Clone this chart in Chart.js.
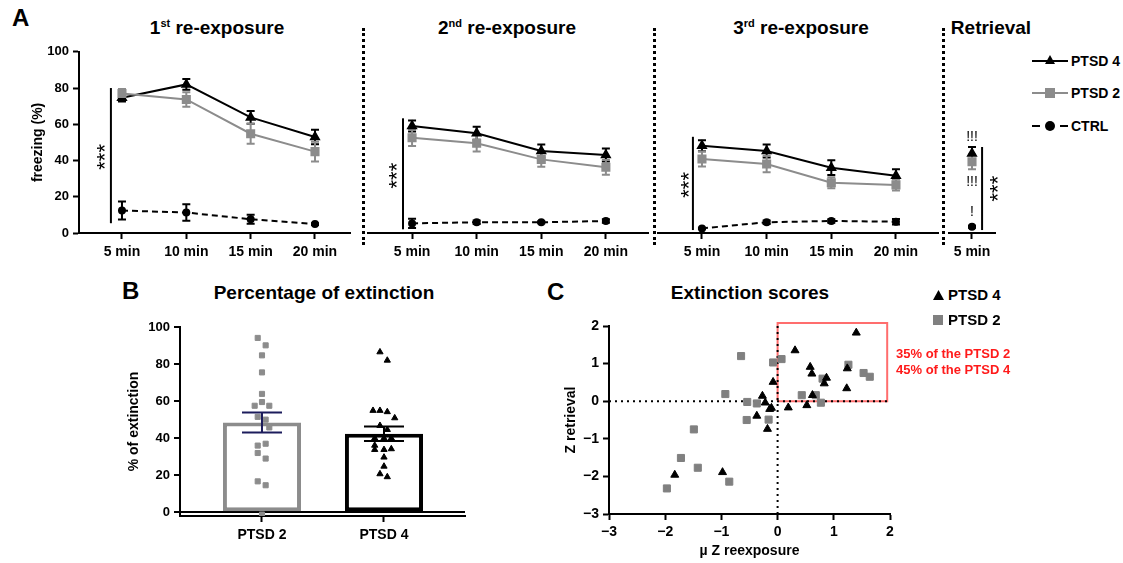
<!DOCTYPE html>
<html lang="en">
<head>
<meta charset="UTF-8">
<title>Freezing and extinction</title>
<script src="https://cdn.jsdelivr.net/npm/chart.js"></script>
<style>
  body { margin:0; width:1123px; height:563px; background:#fff; position:relative; overflow:hidden;
         font-family:"Liberation Sans", Arial, sans-serif; font-weight:bold; color:#000; }
  canvas, .abs { position:absolute; }
  .letter { font-size:24px; line-height:24px; }
  .title { font-size:19px; line-height:22px; white-space:nowrap; transform:translateX(-50%); }
  .title sup { font-size:11px; vertical-align:7px; line-height:0; }
  .sep { width:0; border-left:3px dotted #000; }
  .leg { font-size:14px; line-height:16px; white-space:nowrap; }
  .red { color:#ff1a1a; font-size:13px; line-height:15px; white-space:nowrap; }
</style>
</head>
<body>
  <!-- panel A -->
  <div class="abs letter" style="left:12px;top:6px;">A</div>
  <div class="abs title" style="left:217px;top:17px;">1<sup>st</sup> re-exposure</div>
  <div class="abs title" style="left:507px;top:17px;">2<sup>nd</sup> re-exposure</div>
  <div class="abs title" style="left:801px;top:17px;">3<sup>rd</sup> re-exposure</div>
  <div class="abs title" style="left:991px;top:17px;">Retrieval</div>
  <div class="abs sep" style="left:362px;top:28px;height:217px;"></div>
  <div class="abs sep" style="left:653px;top:28px;height:217px;"></div>
  <div class="abs sep" style="left:942px;top:28px;height:217px;"></div>

  <canvas id="re1" width="360" height="235" style="left:0;top:40px;"></canvas>
  <canvas id="re2" width="292" height="235" style="left:362px;top:40px;"></canvas>
  <canvas id="re3" width="288" height="235" style="left:654px;top:40px;"></canvas>
  <canvas id="ret" width="80" height="235" style="left:943px;top:40px;"></canvas>

  <!-- legend A -->
  <div class="abs" style="left:1032px;top:60px;width:36px;border-top:2px solid #000;"></div>
  <div class="abs" style="left:1045px;top:55px;width:10px;height:9px;background:#000;clip-path:polygon(50% 0,100% 100%,0 100%);"></div>
  <div class="abs leg" style="left:1071px;top:53px;">PTSD 4</div>
  <div class="abs" style="left:1032px;top:92px;width:36px;border-top:2px solid #8c8c8c;"></div>
  <div class="abs" style="left:1045px;top:88px;width:10px;height:10px;background:#8c8c8c;"></div>
  <div class="abs leg" style="left:1071px;top:85px;">PTSD 2</div>
  <div class="abs" style="left:1032px;top:125px;width:8px;border-top:2px solid #000;"></div>
  <div class="abs" style="left:1060px;top:125px;width:8px;border-top:2px solid #000;"></div>
  <div class="abs" style="left:1045px;top:121px;width:10px;height:10px;background:#000;border-radius:50%;"></div>
  <div class="abs leg" style="left:1071px;top:118px;">CTRL</div>

  <!-- panel B -->
  <div class="abs letter" style="left:122px;top:279px;">B</div>
  <div class="abs title" style="left:324px;top:282px;">Percentage of extinction</div>
  <canvas id="ext" width="380" height="240" style="left:100px;top:315px;"></canvas>

  <!-- panel C -->
  <div class="abs letter" style="left:547px;top:280px;">C</div>
  <div class="abs title" style="left:750px;top:282px;">Extinction scores</div>
  <canvas id="scores" width="360" height="250" style="left:540px;top:310px;"></canvas>
  <div class="abs" style="left:933px;top:290px;width:11px;height:10px;background:#000;clip-path:polygon(50% 0,100% 100%,0 100%);"></div>
  <div class="abs leg" style="left:948px;top:287px;font-size:15px;">PTSD 4</div>
  <div class="abs" style="left:933px;top:315px;width:10px;height:10px;background:#808080;"></div>
  <div class="abs leg" style="left:948px;top:312px;font-size:15px;">PTSD 2</div>
  <div class="abs red" style="left:896px;top:346px;">35% of the PTSD 2</div>
  <div class="abs red" style="left:896px;top:362px;">45% of the PTSD 4</div>

<script>
// ---- data ----
const minutes = [5, 10, 15, 20];

// freezing (%) per 5 min bin, mean and SEM
const re1Ptsd4 = [74.6, 82.0, 63.8, 53.0];
const re1Ptsd4Sem = [2, 3, 3.5, 4];
const re1Ptsd2 = [77.0, 73.7, 54.8, 44.9];
const re1Ptsd2Sem = [2.5, 4, 5.5, 5.5];
const re1Ctrl = [12.4, 11.3, 7.6, 4.9];
const re1CtrlSem = [5, 4.5, 2.5, 0.5];

const re2Ptsd4 = [57.8, 53.9, 44.3, 42.2];
const re2Ptsd4Sem = [3, 3.5, 3.5, 3.5];
const re2Ptsd2 = [51.5, 48.5, 39.8, 35.5];
const re2Ptsd2Sem = [4.5, 4.5, 4, 4];
const re2Ctrl = [5.2, 5.8, 5.8, 6.5];
const re2CtrlSem = [2.5, 1, 0.5, 1];

const re3Ptsd4 = [47.2, 44.3, 35.3, 31.0];
const re3Ptsd4Sem = [3, 3.5, 4, 3.5];
const re3Ptsd2 = [40.0, 37.3, 27.2, 26.0];
const re3Ptsd2Sem = [4, 4.5, 3, 3];
const re3Ctrl = [2.5, 5.8, 6.5, 6.1];
const re3CtrlSem = [0.3, 1, 1, 1.5];

const retMinutes = [5];
const retPtsd4 = [43.0];
const retPtsd4Sem = [3.5];
const retPtsd2 = [38.5];
const retPtsd2Sem = [4];
const retCtrl = [3.4];
const retCtrlSem = [0.5];

// percentage of extinction
const groups = ['PTSD 2', 'PTSD 4'];
const extinctionMean = [48.5, 42.4];
const extinctionSem = [5.4, 3.9];
const ptsd2Extinction = [94.1, 90.1, 84.7, 75.5, 63.9, 59.5, 57.5, 57.5, 51.5, 50, 45.8, 36, 37, 32, 29, 16.7, 14.6, -1.2];
const ptsd2Jitter = [-0.035, 0.03, 0, 0, 0, 0, -0.06, 0.06, -0.035, 0.03, 0.06, -0.035, 0.03, -0.035, 0.03, -0.035, 0.03, 0];
const ptsd4Extinction = [86.5, 82, 54.9, 54.9, 54.2, 50.9, 46.8, 44.6, 40, 40, 40, 36.1, 33.8, 33.8, 34.2, 29.7, 24.8, 20.7, 19.1];
const ptsd4Jitter = [-0.033, 0.027, -0.09, -0.033, 0.027, 0.088, -0.033, 0.027, -0.076, 0, 0.06, -0.076, -0.076, 0, 0.06, 0, 0, -0.033, 0.027];

// extinction scores
const zPtsd2Reexp = [-0.65, -0.08, 0.07, -0.93, -0.54, -0.37, -0.55, -0.16, -1.49, -1.72, -1.42, -0.86, -1.97, 0.43, 0.68, 0.77, 0.80, 1.26, 1.53, 1.64];
const zPtsd2Retr  = [1.20, 1.03, 1.12, 0.19, -0.02, -0.06, -0.50, -0.49, -0.75, -1.51, -1.77, -2.14, -2.32, 0.16, 0.16, -0.04, 0.60, 0.97, 0.75, 0.65];
const zPtsd4Reexp = [1.40, 0.31, 0.58, 0.61, 0.87, 0.83, 1.23, 1.24, 0.62, -0.08, -0.27, -0.22, -0.11, -0.14, -0.37, -0.18, 0.19, 0.52, -1.83, -0.98];
const zPtsd4Retr  = [1.82, 1.35, 0.91, 0.73, 0.62, 0.47, 0.34, 0.87, 0.16, 0.51, 0.14, -0.04, -0.18, -0.21, -0.39, -0.74, -0.17, -0.11, -1.96, -1.89];
const boxX = [0, 0, 1.95, 1.95, 0];
const boxY = [0, 2.08, 2.08, 0, 0];
const refLineX = [-3, 1.95];
const refLineY = [-3, 2.08];

// ---- defaults ----
Chart.defaults.font.family = "'Liberation Sans', Arial, sans-serif";
Chart.defaults.font.weight = 'bold';
Chart.defaults.font.size = 13;
Chart.defaults.color = '#000';
Chart.defaults.animation = false;
Chart.defaults.plugins.legend.display = false;
Chart.defaults.plugins.tooltip.enabled = false;

const GRAY = '#8c8c8c';

// SEM bars drawn from the dataset's "sem" array
function drawSem(chart, cap) {
  const ctx = chart.ctx;
  const ys = chart.scales.y;
  chart.data.datasets.forEach((ds, di) => {
    if (!ds.sem) return;
    chart.getDatasetMeta(di).data.forEach((el, i) => {
      const v = ds.data[i].y, e = ds.sem[i];
      const top = ys.getPixelForValue(v + e), bot = ys.getPixelForValue(v - e);
      ctx.save();
      ctx.strokeStyle = Array.isArray(ds.semColor) ? ds.semColor[i] : (ds.semColor || ds.borderColor);
      ctx.lineWidth = 2;
      ctx.beginPath();
      ctx.moveTo(el.x, top); ctx.lineTo(el.x, bot);
      ctx.moveTo(el.x - cap, top); ctx.lineTo(el.x + cap, top);
      ctx.moveTo(el.x - cap, bot); ctx.lineTo(el.x + cap, bot);
      ctx.stroke();
      ctx.restore();
    });
  });
}
const errorBars = {
  id: 'errorBars',
  beforeDatasetsDraw(chart, args, opts) { if (!opts.after) drawSem(chart, opts.cap || 4); },
  afterDatasetsDraw(chart, args, opts) { if (opts.after) drawSem(chart, opts.cap || 4); }
};

// significance lines and stars
const sigMarks = {
  id: 'sigMarks',
  afterDatasetsDraw(chart, args, opts) {
    const ctx = chart.ctx, xs = chart.scales.x, ys = chart.scales.y;
    (opts.items || []).forEach(it => {
      const x = xs.getPixelForValue(it.x);
      ctx.save();
      if (it.y1 !== undefined) {
        ctx.strokeStyle = '#000'; ctx.lineWidth = 2;
        ctx.beginPath();
        ctx.moveTo(x, ys.getPixelForValue(it.y0));
        ctx.lineTo(x, ys.getPixelForValue(it.y1));
        ctx.stroke();
      } else {
        ctx.translate(x, ys.getPixelForValue(it.y));
        if (it.rotate) ctx.rotate(-Math.PI / 2);
        ctx.font = (it.size || 14) + "px 'Liberation Sans', Arial, sans-serif";
        ctx.fillStyle = '#000';
        ctx.textAlign = 'center';
        ctx.textBaseline = 'middle';
        ctx.fillText(it.text, 0, it.rotate ? 6 : 0);
      }
      ctx.restore();
    });
  }
};

const pts = (xs, ys) => xs.map((x, i) => ({ x: x, y: ys[i] }));

function freezingChart(id, cfg) {
  const xv = cfg.x || minutes;
  const showY = !!cfg.showY;
  new Chart(document.getElementById(id), {
    type: 'line',
    data: {
      datasets: [
        { label: 'CTRL', data: pts(xv, cfg.ctrl), sem: cfg.ctrlSem, borderColor: '#000', backgroundColor: '#000',
          borderWidth: 2, borderDash: [6, 4], pointStyle: 'circle', pointRadius: 3, order: 3 },
        { label: 'PTSD 4', data: pts(xv, cfg.p4), sem: cfg.p4Sem, borderColor: '#000', backgroundColor: '#000',
          borderWidth: 2, pointStyle: 'triangle', pointRadius: 4.5, order: 2 },
        { label: 'PTSD 2', data: pts(xv, cfg.p2), sem: cfg.p2Sem, borderColor: GRAY, backgroundColor: GRAY,
          borderWidth: 2, pointStyle: 'rect', pointRadius: 5, order: 1 }
      ]
    },
    options: {
      responsive: false,
      layout: { autoPadding: false, padding: cfg.padding },
      scales: {
        x: {
          type: 'linear', min: cfg.xMin, max: cfg.xMax,
          afterBuildTicks: s => { s.ticks = xv.map(v => ({ value: v })); },
          afterFit: s => { s.height = 42; },
          border: { color: '#000', width: 2 },
          grid: { drawOnChartArea: false, tickLength: 6, tickColor: '#000', tickWidth: 2 },
          ticks: { padding: 5, font: { size: 14 }, callback: v => v + ' min', maxRotation: 0, autoSkip: false }
        },
        y: {
          min: 0, max: 100,
          afterBuildTicks: s => { s.ticks = [0, 20, 40, 60, 80, 100].map(v => ({ value: v })); },
          afterFit: s => { s.width = showY ? 49 : 0; },
          border: { display: showY, color: '#000', width: 2 },
          grid: { display: showY, drawOnChartArea: false, tickLength: 6, tickColor: '#000', tickWidth: 2 },
          ticks: { display: showY, padding: 4, font: { size: 13 } },
          title: { display: showY, text: 'freezing (%)', font: { size: 14 }, padding: 0 }
        }
      },
      plugins: { errorBars: { cap: 4 }, sigMarks: { items: cfg.marks } }
    },
    plugins: [errorBars, sigMarks]
  });
}

freezingChart('re1', {
  showY: true, xMin: 1.66, xMax: 22.72, padding: { left: 30, top: 8, right: 10, bottom: 0 },
  p4: re1Ptsd4, p4Sem: re1Ptsd4Sem, p2: re1Ptsd2, p2Sem: re1Ptsd2Sem, ctrl: re1Ctrl, ctrlSem: re1CtrlSem,
  marks: [{ x: 4.14, y0: 5.4, y1: 80 }, { x: 3.3, y: 42, text: '***', rotate: true, size: 22 }]
});
freezingChart('re2', {
  xMin: 1.59, xMax: 23.26, padding: { left: 6, top: 8, right: 6, bottom: 0 },
  p4: re2Ptsd4, p4Sem: re2Ptsd4Sem, p2: re2Ptsd2, p2Sem: re2Ptsd2Sem, ctrl: re2Ctrl, ctrlSem: re2CtrlSem,
  marks: [{ x: 4.3, y0: 2, y1: 62 }, { x: 3.45, y: 31, text: '***', rotate: true, size: 22 }]
});
freezingChart('re3', {
  xMin: 1.6, xMax: 23.25, padding: { left: 4, top: 8, right: 4, bottom: 0 },
  p4: re3Ptsd4, p4Sem: re3Ptsd4Sem, p2: re3Ptsd2, p2Sem: re3Ptsd2Sem, ctrl: re3Ctrl, ctrlSem: re3CtrlSem,
  marks: [{ x: 4.3, y0: 1.6, y1: 52 }, { x: 3.6, y: 26, text: '***', rotate: true, size: 22 }]
});
freezingChart('ret', {
  x: retMinutes, xMin: 3.22, xMax: 6.78, padding: { left: 6, top: 8, right: 28, bottom: 0 },
  p4: retPtsd4, p4Sem: retPtsd4Sem, p2: retPtsd2, p2Sem: retPtsd2Sem, ctrl: retCtrl, ctrlSem: retCtrlSem,
  marks: [{ x: 5.78, y0: 1.6, y1: 46.5 }, { x: 6.63, y: 24, text: '***', rotate: true, size: 22 },
          { x: 5, y: 52, text: '!!!' }, { x: 5, y: 27.6, text: '!!!' }, { x: 5, y: 11.4, text: '!' }]
});

// ---- B: percentage of extinction ----
new Chart(document.getElementById('ext'), {
  type: 'bar',
  data: {
    datasets: [
      { type: 'bar', data: pts([0, 1], extinctionMean), sem: extinctionSem,
        semColor: ['#1c1c5c', '#000'],
        backgroundColor: '#fff', borderColor: [GRAY, '#000'], borderWidth: 4, borderSkipped: false,
        barPercentage: 0.64, categoryPercentage: 1, order: 2 },
      { type: 'scatter', data: pts(ptsd2Jitter.map(j => 0 + j), ptsd2Extinction),
        backgroundColor: GRAY, borderColor: GRAY, pointStyle: 'rect', pointRadius: 3.6, order: 1 },
      { type: 'scatter', data: pts(ptsd4Jitter.map(j => 1 + j), ptsd4Extinction),
        backgroundColor: '#000', borderColor: '#000', pointStyle: 'triangle', pointRadius: 3.6, order: 1 }
    ]
  },
  options: {
    responsive: false,
    layout: { autoPadding: false, padding: { left: 26, top: 12, right: 15, bottom: 0 } },
    scales: {
      x: {
        type: 'linear', min: -0.672, max: 1.664, offset: false,
        afterBuildTicks: s => { s.ticks = [0, 1].map(v => ({ value: v })); },
        afterFit: s => { s.height = 39; },
        border: { color: '#000', width: 2 },
        grid: { offset: false, drawOnChartArea: false, tickLength: 6, tickColor: '#000', tickWidth: 2 },
        ticks: { padding: 5, font: { size: 14 }, callback: v => groups[v] }
      },
      y: {
        min: -2, max: 100,
        afterBuildTicks: s => { s.ticks = [0, 20, 40, 60, 80, 100].map(v => ({ value: v })); },
        afterFit: s => { s.width = 54; },
        border: { color: '#000', width: 2 },
        grid: { color: c => (c.tick && c.tick.value === 0 ? '#000' : 'rgba(0,0,0,0)'), lineWidth: 2,
                tickLength: 6, tickColor: '#000', tickWidth: 2 },
        ticks: { padding: 4, font: { size: 13 } },
        title: { display: true, text: '% of extinction', font: { size: 14 }, padding: 0 }
      }
    },
    plugins: { errorBars: { cap: 20, after: true } }
  },
  plugins: [errorBars]
});

// ---- C: extinction scores ----
const signed = v => (v < 0 ? '\u2212' + Math.abs(v) : '' + v);
new Chart(document.getElementById('scores'), {
  type: 'scatter',
  data: {
    datasets: [
      { data: pts(boxX, boxY), showLine: true, borderColor: 'rgba(255,60,60,0.75)', borderWidth: 2,
        pointRadius: 0, clip: false, order: 4 },
      { data: pts(refLineX, [0, 0]), showLine: true, borderColor: '#000', borderWidth: 2,
        borderDash: [2, 4], pointRadius: 0, clip: false, order: 3 },
      { data: pts([0, 0], refLineY), showLine: true, borderColor: '#000', borderWidth: 2,
        borderDash: [2, 4], pointRadius: 0, clip: false, order: 3 },
      { label: 'PTSD 2', data: pts(zPtsd2Reexp, zPtsd2Retr), backgroundColor: '#808080', borderColor: '#808080',
        pointStyle: 'rect', pointRadius: 5, order: 2 },
      { label: 'PTSD 4', data: pts(zPtsd4Reexp, zPtsd4Retr), backgroundColor: '#000', borderColor: '#000',
        pointStyle: 'triangle', pointRadius: 4.6, order: 1 }
    ]
  },
  options: {
    responsive: false,
    layout: { autoPadding: false, padding: { left: 23, top: 16, right: 10, bottom: 0 } },
    scales: {
      x: {
        type: 'linear', min: -3, max: 2,
        afterBuildTicks: s => { s.ticks = [-3, -2, -1, 0, 1, 2].map(v => ({ value: v })); },
        afterFit: s => { s.height = 46; },
        border: { color: '#000', width: 2 },
        grid: { drawOnChartArea: false, tickLength: 6, tickColor: '#000', tickWidth: 2 },
        ticks: { padding: 4, font: { size: 14 }, callback: signed },
        title: { display: true, text: '\u00b5 Z reexposure', font: { size: 14 }, padding: 0 }
      },
      y: {
        min: -3, max: 2,
        afterBuildTicks: s => { s.ticks = [-3, -2, -1, 0, 1, 2].map(v => ({ value: v })); },
        afterFit: s => { s.width = 46; },
        border: { color: '#000', width: 2 },
        grid: { drawOnChartArea: false, tickLength: 6, tickColor: '#000', tickWidth: 2 },
        ticks: { padding: 4, font: { size: 14 }, callback: signed },
        title: { display: true, text: 'Z retrieval', font: { size: 14 }, padding: 0 }
      }
    }
  }
});
</script>
</body>
</html>
